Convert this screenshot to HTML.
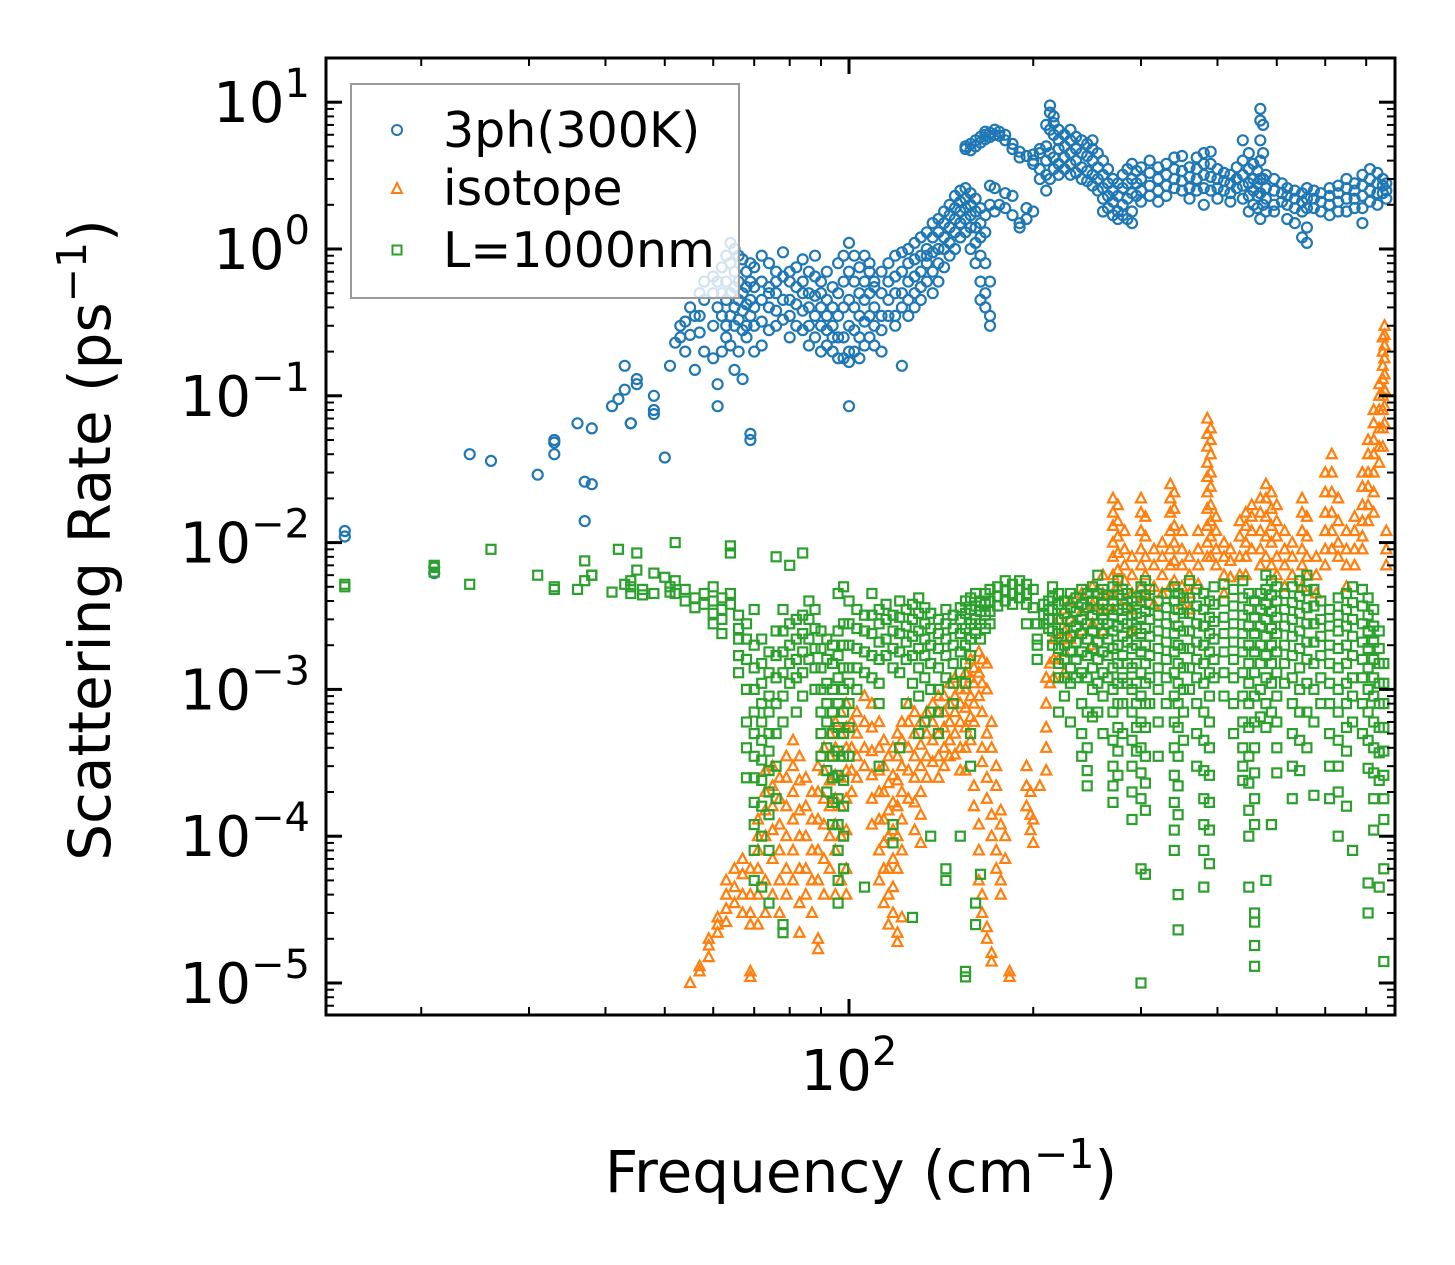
<!DOCTYPE html>
<html><head><meta charset="utf-8"><title>Scattering Rate vs Frequency</title>
<style>
html,body{margin:0;padding:0;background:#fff;}
svg{display:block;font-family:"DejaVu Sans","Liberation Sans",sans-serif;}
</style></head>
<body>
<svg id="chart" width="1455" height="1265" viewBox="0 0 1455 1265" xmlns="http://www.w3.org/2000/svg">
  <rect x="0" y="0" width="1455" height="1265" fill="#fff"/>
  <g id="marks"></g>
  <g id="axes"></g>
  <text transform="translate(110,540) rotate(-90)" text-anchor="middle" font-size="58">Scattering Rate (ps<tspan dy="-24" font-size="41">−1</tspan><tspan dy="24">)</tspan></text>
  <text x="861" y="1192" text-anchor="middle" font-size="58">Frequency (cm<tspan dy="-24" font-size="41">−1</tspan><tspan dy="24">)</tspan></text>
  <g>
    <rect x="351" y="84" width="388" height="214" fill="#fff" fill-opacity="0.8" stroke="#999" stroke-width="2"/>
    <circle cx="397" cy="130" r="5" fill="none" stroke="#1f77b4" stroke-width="2"/>
    <text x="443" y="147" font-size="49">3ph(300K)</text>
    <polygon points="397,183 402,193 392,193" fill="none" stroke="#ff7f0e" stroke-width="2"/>
    <text x="443" y="205" font-size="49">isotope</text>
    <rect x="392.5" y="245.5" width="9" height="9" fill="none" stroke="#2ca02c" stroke-width="2"/>
    <text x="443" y="267" font-size="49">L=1000nm</text>
  </g>
</svg>
<script>
// ---- data: columns of [frequency (cm^-1), rates (ps^-1)] ----
const ph3Cols = [
[15,[0.012,0.011]],[21,[0.0062,0.0068]],[24,[0.04]],[26,[0.036]],[31,[0.029]],[33,[0.05,0.048,0.04]],[36,[0.065]],[37,[0.014,0.026]],[38,[0.06,0.025]],[41,[0.085]],[42,[0.095]],[43,[0.16,0.11]],[44,[0.065,0.065]],[45,[0.13,0.12]],[48,[0.075,0.1,0.08]],[50,[0.038]],[51,[0.16]],[52,[0.23]],[53,[0.3,0.25]],[54,[0.2,0.32]],[55,[0.26,0.4]],[56,[0.15,0.35]],[57,[0.35,0.27,0.5]],[58,[0.45,0.6,0.2]],[60,[0.5,0.65,0.3,0.18]],[61,[0.085,0.12,0.6,0.4]],[62,[0.2,0.5,0.75,0.35]],[63,[0.3,0.9,0.6,0.45,0.25]],[64,[1.1,0.8,0.5,0.35,0.22]],[65,[1.0,0.7,0.55,0.4,0.3,0.15]],[66,[0.9,0.6,0.45,0.33,0.2]],[67,[0.85,0.5,0.38,0.28,0.13]],[68,[0.7,0.55,0.42,0.3,0.25]],[69,[0.05,0.055,0.6,0.45,0.35,0.8]],[70,[0.75,0.55,0.4,0.3,0.2]],[72,[0.9,0.6,0.45,0.32,0.22]],[74,[0.8,0.55,0.4,0.28,0.5]],[76,[0.7,0.5,0.38,0.3,0.6]],[78,[0.95,0.65,0.45,0.33]],[80,[0.6,0.45,0.35,0.7,0.25]],[82,[0.55,0.42,0.3,0.75]],[84,[0.6,0.5,0.38,0.28,0.85]],[86,[0.7,0.5,0.4,0.3,0.22]],[88,[0.65,0.48,0.35,0.25,0.9]],[90,[0.5,0.4,0.3,0.6,0.2]],[92,[0.45,0.35,0.28,0.22,0.7]],[94,[0.4,0.3,0.25,0.2,0.55]],[96,[0.5,0.35,0.25,0.18,0.8]],[98,[0.9,0.6,0.4,0.25,0.18]],[100,[1.1,0.7,0.45,0.3,0.2,0.085,0.17]],[102,[0.9,0.6,0.4,0.28,0.2]],[104,[0.75,0.5,0.35,0.25,0.18]],[106,[0.6,0.45,0.32,0.22,0.9]],[108,[0.7,0.5,0.35,0.25,0.8]],[110,[0.55,0.4,0.3,0.6,0.22]],[113,[0.5,0.35,0.7,0.28,0.2]],[116,[0.6,0.45,0.8,0.35]],[119,[0.9,0.65,0.5,0.35,0.3]],[122,[0.16,0.95,0.7,0.5,0.4]],[125,[1.0,0.8,0.6,0.45,0.35]],[128,[1.1,0.85,0.65,0.5,0.4]],[131,[1.2,0.9,0.7,0.55,0.45]],[134,[1.3,1.0,0.8,0.6,0.9]],[137,[1.5,1.2,0.95,0.7,0.5]],[140,[1.6,1.3,1.0,0.8,0.6]],[143,[1.8,1.5,1.2,1.0,0.75]],[146,[2.0,1.7,1.4,1.1,0.9]],[149,[2.3,1.9,1.6,1.3,1.0]],[152,[2.5,2.1,1.8,1.5,1.2]],[155,[2.6,2.2,1.9,1.6,1.3,4.8,5.0]],[158,[2.4,2.0,1.7,1.4,1.0,5.2,4.7]],[161,[2.2,1.8,1.4,1.1,0.8,5.5,5.0]],[164,[1.9,1.5,1.2,0.9,0.6,0.45,5.8,5.3]],[167,[1.7,1.3,0.8,0.5,0.4,6.0,6.3,5.6]],[170,[2.0,0.6,0.35,0.3,6.2,5.8,2.7]],[173,[2.6,6.5,6.0,1.8]],[176,[2.0,6.3,5.9]],[180,[2.4,1.9,6.0,5.5]],[185,[2.3,1.7,5.2,4.8]],[190,[1.4,1.5,4.6,4.2]],[195,[1.6,1.9,4.3]],[200,[1.8,4.0,3.8,4.4]],[205,[4.5,3.5,3.0,4.8]],[210,[5.0,4.0,2.5,3.2,7.0]],[213,[9.5,8.5,6.5,4.5,3.0]],[216,[8.0,6.0,4.2,3.5,7.2]],[220,[6.5,5.5,4.8,3.8,3.2]],[225,[6.0,5.0,4.2,3.5]],[230,[5.5,4.5,3.8,3.2,6.5]],[235,[5.8,4.8,4.0,3.3]],[240,[5.5,4.5,3.6,3.0]],[245,[5.2,4.3,3.4,2.9]],[250,[4.8,4.0,3.2,2.7,5.5]],[255,[4.5,3.6,3.0,2.5]],[260,[4.0,3.2,2.6,2.2,1.8]],[265,[3.5,2.8,2.3,1.9]],[270,[3.0,2.5,2.1,1.7]],[275,[2.8,2.3,1.8,1.6]],[280,[3.2,2.6,2.0,1.7]],[285,[3.5,2.8,2.2,1.6]],[290,[3.8,3.0,2.4,1.8,1.5]],[295,[3.4,2.8,2.3]],[300,[3.0,2.5,2.1,3.6]],[310,[3.3,2.7,2.3,4.0]],[320,[3.6,3.0,2.5,2.1]],[330,[3.8,3.2,2.7,2.3]],[340,[3.5,3.0,2.6,4.2]],[350,[3.4,2.9,2.5,4.3]],[360,[3.6,3.1,2.6,2.2]],[370,[4.2,3.5,3.0,2.5]],[380,[4.5,3.8,3.2,2.6,2.0]],[390,[4.6,3.8,3.1,2.5]],[400,[3.5,3.0,2.6,2.2]],[410,[3.3,2.9,2.5]],[420,[3.2,2.8,2.4,2.1]],[430,[3.6,3.0,2.6]],[440,[5.5,4.0,3.2,2.7,2.2]],[450,[4.5,3.5,2.8,2.3,1.8]],[458,[3.8,3.0,2.5,2.0]],[465,[3.4,2.8,2.3,1.9]],[470,[9.0,7.5,5.5,4.0,3.0,2.4,1.6]],[475,[7.0,4.5,3.0,2.0]],[480,[3.2,2.6,2.2,1.8]],[495,[3.0,2.5,2.0,1.8]],[510,[2.8,2.4,2.1]],[520,[2.6,2.3,2.0,1.6]],[535,[2.5,2.2,1.9,1.5]],[550,[2.4,2.1,1.8,1.2]],[560,[2.6,2.2,1.9,1.4,1.1]],[575,[2.5,2.2,1.9]],[590,[2.4,2.1,1.8]],[610,[2.6,2.3,2.0,1.7]],[630,[2.7,2.4,2.1,1.8]],[650,[3.0,2.6,2.2,1.8]],[670,[2.8,2.5,2.2,1.9]],[690,[3.2,2.7,2.3,1.9,1.5]],[710,[3.5,3.0,2.5,2.1]],[730,[3.3,2.8,2.4,2.0]],[745,[3.0,2.7,2.4]],[755,[2.8,2.5,2.2]]
];
const isotopeCols = [
[55,[1.0e-5]],[57,[1.2e-5,1.3e-5]],[59,[1.5e-5,1.8e-5,2.0e-5]],[61,[2.2e-5,2.8e-5,2.5e-5]],[63,[3.2e-5,4e-5,5e-5,2.6e-5]],[65,[4.5e-5,6e-5,3.5e-5]],[67,[5.5e-5,7e-5,4e-5,3e-5]],[69,[6e-5,4e-5,2.5e-5,1.2e-5,1.1e-5,3e-5]],[71,[6e-5,8e-5,1e-4,1.3e-4,4e-5,2.5e-5]],[73,[1e-4,1.5e-4,2e-4,2.8e-4,5e-5,3e-5]],[75,[3e-4,2.2e-4,1.6e-4,1.1e-4,7e-5,4e-5]],[77,[2.5e-4,1.8e-4,1.2e-4,8e-5,5e-5,3e-5]],[79,[3.5e-4,2.5e-4,1.6e-4,1e-4,6e-5,4e-5]],[81,[4.5e-4,3e-4,2e-4,1.3e-4,8e-5,5e-5]],[83,[3.5e-4,2.4e-4,1.5e-4,1e-4,6e-5,3.5e-5,2.2e-5]],[85,[2.5e-4,1.6e-4,1e-4,6e-5,4e-5]],[87,[2e-4,1.3e-4,8e-5,5e-5,3e-5]],[89,[3e-4,2e-4,1.3e-4,8e-5,5e-5,2e-5,1.7e-5]],[91,[4e-4,2.8e-4,1.8e-4,1.2e-4,7e-5,4e-5]],[93,[5e-4,3.5e-4,2.4e-4,1.6e-4,1e-4,6e-5]],[95,[6e-4,4e-4,2.6e-4,1.8e-4,1.2e-4,8e-5,4e-5]],[97,[7e-4,5e-4,3.5e-4,2.5e-4,1.6e-4,1e-4,5e-5]],[99,[8e-4,5.5e-4,4e-4,2.8e-4,1.8e-4,1.1e-4,6e-5,4e-5]],[101,[6e-4,4e-4,2.8e-4,2e-4]],[103,[7e-4,5e-4,3.5e-4,2.5e-4]],[106,[9e-4,6e-4,4e-4,3e-4]],[109,[8e-4,5.5e-4,3.8e-4,2.6e-4,1.8e-4,1.2e-4]],[112,[6e-4,4e-4,2.8e-4,2e-4,1.3e-4,8e-5,5e-5]],[114,[4.5e-4,3e-4,2e-4,1.3e-4,9e-5,6e-5,3.5e-5]],[116,[3.5e-4,2.3e-4,1.5e-4,1e-4,6e-5,4e-5,2.5e-5]],[118,[4e-4,2.6e-4,1.7e-4,1.1e-4,7e-5,4.5e-5,3e-5]],[120,[5e-4,3.5e-4,2.4e-4,1.6e-4,1e-4,6e-5,2.2e-5,1.9e-5]],[122,[6e-4,4.5e-4,3e-4,2e-4,1.3e-4,8e-5,2.8e-5]],[125,[8e-4,6e-4,4e-4,2.8e-4,1.8e-4]],[128,[7e-4,5e-4,3.5e-4,2.5e-4,1.7e-4,1.1e-4]],[131,[6e-4,4.2e-4,3e-4,2e-4,1.4e-4,9e-5]],[134,[7e-4,5e-4,3.5e-4,2.5e-4]],[137,[8e-4,6e-4,4.5e-4,3.2e-4]],[140,[9e-4,7e-4,5e-4,3.5e-4,2.5e-4]],[143,[9e-4,7e-4,5.5e-4,4e-4,3e-4]],[146,[1.1e-3,8e-4,6e-4,4.5e-4,3.5e-4]],[149,[1.2e-3,9e-4,7e-4,5e-4,3.6e-4]],[152,[1.0e-3,8e-4,6e-4,4e-4,2.8e-4]],[155,[1.3e-3,1e-3,7.5e-4,5.5e-4,4e-4,2.8e-4]],[158,[1.6e-3,1.2e-3,9e-4,6.5e-4,4.5e-4]],[160,[1.4e-3,1.1e-3,8e-4,6e-4,2.2e-4,1.6e-4]],[163,[1.8e-3,1.3e-3,9e-4,1.2e-4,8e-5,5e-5]],[165,[1.6e-3,1.1e-3,7e-4,4e-4,3.2e-4,4e-5,3e-5]],[168,[1.5e-3,1e-3,5e-4,2.5e-4,1.8e-4,2.4e-5,2e-5]],[171,[6e-4,4e-4,1.4e-4,1e-4,1.6e-5,1.4e-5]],[174,[3e-4,2.2e-4,8e-5,6e-5]],[177,[1.5e-4,1.2e-4,5e-5,4e-5]],[180,[1e-4,7e-5]],[183,[1.2e-5,1.1e-5]],[195,[3e-4,2.2e-4,1.6e-4]],[198,[2e-4,1.4e-4,1.1e-4]],[200,[1.3e-4,9e-5]],[205,[2.2e-4]],[210,[1.2e-3,8e-4,5.5e-4,4e-4,2.8e-4]],[213,[1.5e-3,1.1e-3]],[216,[2.2e-3,1.6e-3,1.2e-3]],[220,[3e-3,2.2e-3,1.6e-3]],[225,[3.5e-3,2.5e-3,1.8e-3,1.3e-3]],[230,[4e-3,3e-3,2.2e-3]],[240,[4.5e-3,3.4e-3,2.5e-3]],[250,[5e-3,3.8e-3,2.8e-3,2e-3]],[260,[6e-3,4.5e-3,3.5e-3,2.5e-3]],[270,[0.02,0.016,0.013,0.01,0.008,0.006,0.0045,0.0035]],[275,[0.018,0.014,0.011,0.0085,0.0065,0.005]],[282,[0.012,0.009,0.007,0.0055,0.004]],[290,[0.008,0.006,0.0045,0.0035,0.0025]],[300,[0.02,0.016,0.012,0.009,0.007,0.005,0.004]],[305,[0.015,0.011,0.008,0.006,0.0045]],[315,[0.009,0.007,0.005,0.0038]],[325,[0.01,0.008,0.006,0.0045]],[335,[0.025,0.02,0.016,0.012,0.009,0.007,0.005]],[340,[0.022,0.017,0.013,0.01,0.0075,0.0055]],[350,[0.012,0.009,0.007,0.005,0.0038]],[360,[0.008,0.006,0.0045,0.0035]],[372,[0.012,0.009,0.007,0.0052]],[385,[0.07,0.055,0.045,0.035,0.028,0.022,0.017,0.013,0.01,0.008]],[390,[0.06,0.05,0.04,0.03,0.024,0.018,0.014,0.011,0.008]],[398,[0.015,0.012,0.009,0.007]],[410,[0.01,0.008,0.006,0.0045]],[420,[0.009,0.0075,0.0058]],[435,[0.014,0.011,0.008,0.006]],[445,[0.016,0.013,0.01,0.008,0.006]],[455,[0.018,0.015,0.012,0.009]],[470,[0.02,0.016,0.012,0.009,0.007]],[480,[0.025,0.02,0.015,0.011,0.008]],[490,[0.022,0.017,0.013,0.01,0.007]],[500,[0.018,0.014,0.011,0.008,0.006]],[515,[0.012,0.009,0.007,0.005]],[530,[0.01,0.008,0.006]],[550,[0.02,0.016,0.012,0.009,0.007,0.005]],[560,[0.015,0.011,0.008,0.006]],[580,[0.008,0.006,0.0045]],[600,[0.03,0.022,0.016,0.012,0.009,0.007]],[615,[0.04,0.03,0.022,0.016,0.012,0.009]],[630,[0.02,0.014,0.01,0.008]],[650,[0.012,0.009,0.007,0.005]],[670,[0.015,0.012,0.009,0.007]],[690,[0.03,0.024,0.018,0.014,0.011,0.009]],[705,[0.05,0.04,0.03,0.024,0.018,0.014]],[720,[0.08,0.065,0.05,0.04,0.03,0.022,0.016]],[735,[0.12,0.1,0.08,0.06,0.045,0.035]],[745,[0.25,0.2,0.16,0.13,0.1,0.08,0.06,0.045]],[750,[0.3,0.26,0.22,0.18,0.14,0.11,0.085,0.065]],[755,[0.012,0.009,0.007]]
];
const boundaryCols = [
[15,[0.0052,0.005]],[21,[0.007,0.0068,0.0063]],[24,[0.0052]],[26,[0.009]],[31,[0.006]],[33,[0.005,0.0048]],[36,[0.0048]],[37,[0.0075,0.0055]],[38,[0.006,0.006]],[41,[0.0046]],[42,[0.009]],[43,[0.0052]],[44,[0.005,0.0055,0.0045]],[45,[0.0065,0.0085]],[46,[0.0044,0.0048]],[48,[0.0062,0.0045]],[50,[0.0058]],[51,[0.005,0.0046]],[52,[0.0045,0.0055,0.01]],[54,[0.004,0.0048]],[56,[0.0042,0.0036]],[58,[0.0045,0.0038]],[60,[0.005,0.004,0.0033,0.0028]],[62,[0.0042,0.0035,0.003,0.0024]],[64,[0.0085,0.0095,0.0045,0.0038]],[66,[0.0032,0.0026,0.0022,0.0017,0.0013]],[68,[0.0028,0.0022,0.0016,0.001,6e-4,4e-4,2.5e-4]],[70,[0.0035,0.002,0.0014,0.001,7e-4,5e-4,3.5e-4,2.5e-4,1.7e-4,1.2e-4,8e-5,5e-5]],[72,[0.0022,0.0015,0.0011,8e-4,6e-4,4.5e-4,3.3e-4,2.4e-4,1.6e-4,1e-4,4.5e-5]],[74,[0.0018,0.0013,9e-4,7e-4,5e-4,3.8e-4,2.8e-4,2e-4,1.4e-4,8e-5,3.5e-5]],[76,[0.008,0.0025,0.0017,0.0012,8e-4,5e-4,3e-4,1.8e-4]],[78,[0.0035,0.0025,0.0018,0.0013,9e-4,6e-4,2.5e-5,2.2e-5]],[80,[0.007,0.0028,0.002,0.0015,0.0011]],[82,[0.003,0.0022,0.0016,0.0012,7e-4]],[84,[0.0085,0.0032,0.0024,0.0018,0.0013,9e-4]],[86,[0.004,0.003,0.0022,0.0016]],[88,[0.0035,0.0026,0.0019,0.0014,0.001]],[90,[0.0025,0.0019,0.0014,0.001,7e-4,5e-4,3.5e-4]],[92,[0.0022,0.0016,0.0011,8e-4,6e-4,4e-4,2.8e-4,2e-4]],[94,[0.002,0.0015,0.001,7e-4,5e-4,3.5e-4,2.5e-4,1.7e-4,1.2e-4]],[96,[0.0045,0.0025,0.0017,0.0012,8e-4,5.5e-4,3.8e-4,2.6e-4,1.8e-4,1.2e-4,8e-5,5e-5,3.5e-5]],[98,[0.005,0.0028,0.002,0.0014,0.001,7e-4,5e-4,3.5e-4,2.4e-4,1.6e-4,1e-4,6e-5]],[100,[0.004,0.0028,0.002,0.0014,0.0011,8e-4,5.5e-4,3.5e-4]],[103,[0.0035,0.0026,0.0019,0.0014,0.001]],[106,[0.0032,0.0025,0.0018,0.0013,4.5e-5]],[109,[0.0045,0.0032,0.0024,0.0017,0.0012]],[112,[0.0035,0.0028,0.0021,0.0016,0.0011,8e-4,3e-4]],[115,[0.0038,0.003,0.0022,0.0017]],[118,[0.0032,0.0025,0.0019,0.0014,1.2e-4,9e-5]],[121,[0.004,0.0031,0.0024,0.0018,0.0013,4e-4]],[124,[0.0035,0.0027,0.0021,0.0016,8e-4]],[127,[0.0038,0.003,0.0023,0.0017,0.0011,2.8e-5]],[130,[0.0042,0.0033,0.0025,0.0019,0.0014,9e-4,5e-4]],[133,[0.0036,0.0028,0.0022,0.0017,0.0012,6e-4]],[136,[0.0033,0.0026,0.002,0.0015,0.001,7e-4,1e-4]],[140,[0.003,0.0024,0.0019,0.0014,0.001,7e-4,5e-4]],[144,[0.0035,0.0028,0.0022,0.0017,0.0012,5e-5,6e-5]],[148,[0.0032,0.0026,0.002,0.0015,0.0011,8e-4]],[152,[0.0036,0.003,0.0024,0.0018,0.0013,1e-4]],[155,[0.004,0.0033,0.0026,0.002,0.0015,0.0011,1.2e-5,1.1e-5]],[158,[0.0042,0.0035,0.0028,0.0022,0.0017,5e-4,3e-4]],[161,[0.0045,0.0037,0.003,0.0024,3.5e-5,2.5e-5]],[164,[0.004,0.0034,0.0028,0.0022,5.5e-5]],[167,[0.0045,0.0038,0.0032,0.0026]],[170,[0.0048,0.004,0.0034,0.0028]],[175,[0.005,0.0043,0.0037]],[180,[0.0055,0.0047,0.004]],[185,[0.0052,0.0045,0.0038]],[190,[0.0055,0.0048,0.0042]],[195,[0.0052,0.0045,0.0038,0.0028]],[200,[0.0048,0.0036]],[203,[0.0028,0.0022,0.002,0.0016]],[208,[0.0038,0.0032,0.0028]],[212,[0.004,0.0035,0.003,0.0026]],[215,[0.005,0.0042,0.0035,0.003,0.0025,0.002]],[220,[0.0045,0.0038,0.003,0.0024,0.0019,0.0015,0.0012,7e-4]],[225,[0.004,0.0033,0.0026,0.002,0.0016,0.0012,9e-4]],[230,[0.0045,0.0036,0.0029,0.0023,0.0018,0.0014,0.0011,6e-4]],[235,[0.0042,0.0034,0.0027,0.0021,0.0016,0.0012]],[240,[0.0048,0.0038,0.003,0.0024,0.0018,0.0013,8e-4,5e-4,3.5e-4]],[245,[0.0045,0.0036,0.0028,0.0022,0.0017,0.0012,7e-4,4e-4,2.8e-4,2.2e-4]],[250,[0.005,0.004,0.0032,0.0025,0.0019,0.0014,0.001,6.5e-4]],[255,[0.006,0.0045,0.0035,0.0028,0.0021,0.0016,0.0011,7e-4]],[260,[0.0048,0.0038,0.003,0.0024,0.0018,0.0013,9e-4,5e-4]],[265,[0.0044,0.0035,0.0028,0.0022,0.0017,0.0012]],[270,[0.005,0.004,0.0032,0.0025,0.0019,0.0014,0.001,7e-4,4.5e-4,3e-4,2.2e-4,1.7e-4]],[275,[0.0055,0.0044,0.0035,0.0027,0.002,0.0015,0.0011,8e-4,5.5e-4,3.8e-4,2.6e-4]],[280,[0.0048,0.0038,0.003,0.0023,0.0017,0.0012,8e-4,5e-4]],[285,[0.0045,0.0036,0.0028,0.0021,0.0015,0.0011]],[290,[0.004,0.0032,0.0025,0.0019,0.0014,0.001,7e-4,4.5e-4,3e-4,2e-4,1.3e-4]],[295,[0.0042,0.0033,0.0026,0.002,0.0015,0.0011,8e-4,5.5e-4,3.8e-4]],[300,[0.005,0.004,0.0031,0.0024,0.0018,0.0013,9e-4,6e-4,4e-4,2.7e-4,1.8e-4,1e-5,6e-5]],[305,[0.0055,0.0044,0.0034,0.0026,0.002,0.0015,0.0011,8e-4,5.5e-4,3.5e-4,2.3e-4,1.5e-4,5.5e-5]],[310,[0.0048,0.0038,0.003,0.0023,0.0017,0.0012,8e-4]],[320,[0.004,0.0032,0.0025,0.0019,0.0014,0.001,6e-4,3.5e-4]],[330,[0.0045,0.0036,0.0028,0.0021,0.0016,0.0012,8e-4]],[340,[0.005,0.004,0.0031,0.0024,0.0018,0.0013,9e-4,6e-4,4e-4,2.6e-4,1.7e-4,1.1e-4,8e-5]],[345,[0.0045,0.0035,0.0027,0.002,0.0015,0.0011,8e-4,5.5e-4,3.5e-4,2.2e-4,1.4e-4,4e-5,2.3e-5]],[352,[0.0042,0.0033,0.0025,0.0019,0.0014,0.001,7e-4,4.5e-4]],[360,[0.0055,0.0042,0.0033,0.0025,0.0019,0.0014,0.001]],[370,[0.0048,0.0037,0.0028,0.0021,0.0016,0.0012,8e-4,5e-4,3e-4]],[380,[0.0045,0.0035,0.0027,0.002,0.0015,0.0011,7e-4,4.5e-4,2.8e-4,1.8e-4,1.2e-4,8e-5,4.5e-5]],[388,[0.004,0.0031,0.0024,0.0018,0.0013,9e-4,6e-4,4e-4,2.6e-4,1.7e-4,1.1e-4,6.5e-5]],[395,[0.005,0.0038,0.0029,0.0022,0.0016,0.0012]],[410,[0.0052,0.004,0.0031,0.0024,0.0018,0.0013,9e-4]],[425,[0.0048,0.0037,0.0028,0.0021,0.0016,0.0012,8e-4,5e-4]],[440,[0.0055,0.0042,0.0032,0.0024,0.0018,0.0013,9e-4,6e-4,4e-4,3e-4,2.4e-4]],[450,[0.0045,0.0035,0.0027,0.002,0.0015,0.0011,8e-4,5.5e-4,3.5e-4,2.3e-4,1.5e-4,1e-4,4.5e-5]],[460,[0.004,0.0031,0.0024,0.0018,0.0013,9e-4,6e-4,4e-4,2.7e-4,1.8e-4,1.2e-4,3e-5,2.6e-5,1.8e-5,1.3e-5]],[470,[0.0045,0.0035,0.0027,0.002,0.0015,0.001,6.5e-4]],[480,[0.006,0.0048,0.0038,0.003,0.0023,0.0017,0.0012,8e-4,5.5e-4,5e-5]],[490,[0.0055,0.0044,0.0034,0.0026,0.002,0.0015,0.0011,7e-4,1.2e-4]],[500,[0.005,0.004,0.0031,0.0024,0.0018,0.0013,9e-4,6e-4,4e-4,2.7e-4]],[515,[0.0045,0.0035,0.0027,0.002,0.0015,0.0011]],[530,[0.005,0.0039,0.003,0.0023,0.0017,0.0012,8e-4,5e-4,3e-4,1.8e-4]],[545,[0.0055,0.0043,0.0033,0.0025,0.0019,0.0014,0.001,7e-4,4.5e-4,2.8e-4]],[560,[0.006,0.0047,0.0036,0.0028,0.0021,0.0016,0.0011,7e-4,4e-4]],[575,[0.0048,0.0037,0.0028,0.0021,0.0015,0.001,6e-4,1.9e-4]],[590,[0.004,0.003,0.0023,0.0017,0.0012,8e-4]],[610,[0.0035,0.0027,0.002,0.0015,0.0011,8e-4,5e-4,3e-4,1.8e-4]],[630,[0.0042,0.0032,0.0025,0.0019,0.0014,0.001,7e-4,4.5e-4,3e-4,2e-4,1e-4]],[650,[0.0045,0.0035,0.0027,0.002,0.0015,0.0011,8e-4,5.5e-4,3.8e-4,1.6e-4]],[665,[0.005,0.0039,0.003,0.0023,0.0017,0.0012,9e-4,6e-4,8e-5]],[690,[0.0048,0.0037,0.0028,0.0021,0.0016,0.0012,8e-4,5e-4]],[705,[0.0042,0.0032,0.0025,0.0019,0.0014,0.001,7e-4,4.5e-4,2.9e-4,4.8e-5,3e-5]],[720,[0.0035,0.0027,0.0021,0.0016,0.0012,9e-4,6e-4,4e-4,2.7e-4,1.8e-4,1.1e-4]],[735,[0.0025,0.0019,0.0015,0.0011,8e-4,5.5e-4,3.7e-4,2.4e-4,4.5e-5]],[748,[0.0015,0.0011,8e-4,5.5e-4,3.8e-4,2.6e-4,1.8e-4,1.3e-4,6e-5,1.4e-5]]
];
const yTickExps = [1,0,-1,-2,-3,-4,-5];
const yTickLabels = ["1","0","−1","−2","−3","−4","−5"];
const xTickExps = [2];
const xTickLabels = ["2"];

// ---- axis geometry ----
const PL=326, PR=1395, PT=58, PB=1015;
const X0=849, XDEC=612;   // pixel of 10^2, px per decade
const Y0=249, YDEC=146.8; // pixel of 10^0, px per decade
function xs(f){return X0+(Math.log10(f)-2)*XDEC;}
function ys(r){return Y0-Math.log10(r)*YDEC;}
const NS="http://www.w3.org/2000/svg";
function mk(tag,attrs,parent){const e=document.createElementNS(NS,tag);for(const k in attrs)e.setAttribute(k,attrs[k]);parent.appendChild(e);return e;}

const marks=document.getElementById('marks');
const clip=mk('clipPath',{id:'pc'},marks);
mk('rect',{x:PL,y:PT,width:PR-PL,height:PB-PT},clip);
marks.setAttribute('clip-path','url(#pc)');

const g1=mk('g',{fill:'none',stroke:'#1f77b4','stroke-width':2.2},marks);


ph3Cols.forEach(c=>c[1].forEach(r=>{
  const e=mk('circle',{cx:xs(c[0]).toFixed(1),cy:ys(r).toFixed(1),r:5},g1);
  
  
}));
const g2=mk('g',{fill:'none',stroke:'#ff7f0e','stroke-width':2.2},marks);


isotopeCols.forEach(c=>c[1].forEach(r=>{
  const x=xs(c[0]),y=ys(r);
  const e=mk('polygon',{points:`${x},${y-5.5} ${x+5},${y+4} ${x-5},${y+4}`},g2);
  
  
}));
const g3=mk('g',{fill:'none',stroke:'#2ca02c','stroke-width':2.2},marks);


boundaryCols.forEach(c=>c[1].forEach(r=>{
  const e=mk('rect',{x:(xs(c[0])-4.5).toFixed(1),y:(ys(r)-4.5).toFixed(1),width:9,height:9},g3);
  
  
}));

// ---- axes ----
const ax=document.getElementById('axes');
const frame=mk('rect',{x:PL,y:PT,width:PR-PL,height:PB-PT,fill:'none',stroke:'#000','stroke-width':3},ax);


const tg=mk('g',{stroke:'#000'},ax);


for(let e=-6;e<=1;e++){
  for(let m=1;m<10;m++){
    const v=m*Math.pow(10,e), y=ys(v);
    if(y<PT||y>PB) continue;
    const L=m===1?16:8, w=m===1?3:2;
    mk('line',{x1:PL,y1:y,x2:PL+L,y2:y,'stroke-width':w},tg);
    mk('line',{x1:PR,y1:y,x2:PR-L,y2:y,'stroke-width':w},tg);
  }
}
for(let e=1;e<=2;e++){
  for(let m=1;m<10;m++){
    const v=m*Math.pow(10,e), x=xs(v);
    if(x<PL||x>PR) continue;
    const L=(m===1)?16:8, w=(m===1)?3:2;
    mk('line',{x1:x,y1:PB,x2:x,y2:PB-L,'stroke-width':w},tg);
    mk('line',{x1:x,y1:PT,x2:x,y2:PT+L,'stroke-width':w},tg);
  }
}
yTickExps.forEach((ex,i)=>{
  const t=mk('text',{x:310,y:ys(Math.pow(10,ex))+20,'text-anchor':'end','font-size':56},ax);
  
  
  t.appendChild(document.createTextNode('10'));
  const s=mk('tspan',{dy:-25,'font-size':40},t);
  s.textContent=yTickLabels[i];
});
xTickExps.forEach((ex,i)=>{
  const t=mk('text',{x:xs(Math.pow(10,ex)),y:1090,'text-anchor':'middle','font-size':56},ax);
  
  
  t.appendChild(document.createTextNode('10'));
  const s=mk('tspan',{dy:-25,'font-size':40},t);
  s.textContent=xTickLabels[i];
});
</script>
</body></html>
